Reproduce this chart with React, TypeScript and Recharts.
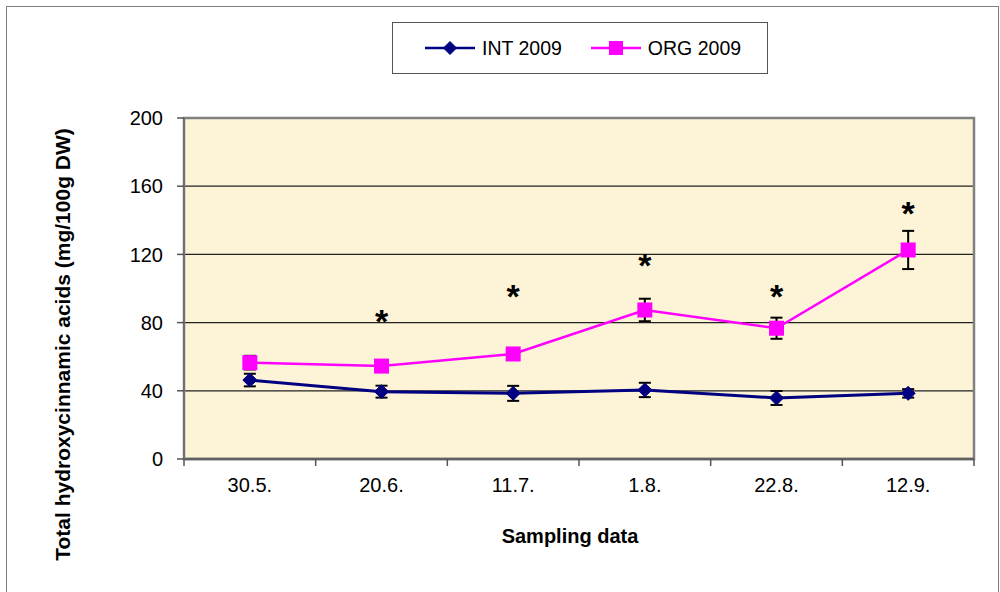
import React from "react"
import { LineChart, Line, XAxis, YAxis, CartesianGrid, ErrorBar, Legend, ReferenceArea, Label } from "recharts"

const categories = ["30.5.", "20.6.", "11.7.", "1.8.", "22.8.", "12.9."]
const intValues = [46.3, 39.5, 38.5, 40.5, 35.8, 38.5]
const intErrors = [3.7, 3.5, 4.4, 4.2, 4.1, 2.5]
const orgValues = [56.5, 54.5, 61.6, 87.4, 76.7, 122.6]
const orgErrors = [4, 2, 3, 6.6, 6.2, 11.2]
// height where the significance asterisk sits (none for the first date)
const starLevels = [null, 85, 99.7, 117.7, 100, 148.4]
const yTicks = [0, 40, 80, 120, 160, 200]

const FONT = "Arial, 'Liberation Sans', sans-serif"
const NAVY = "#000080"
const MAGENTA = "#FF00FF"

const data = categories.map((label, i) => ({
  pos: i + 0.5,
  label,
  int: intValues[i],
  intErr: intErrors[i],
  org: orgValues[i],
  orgErr: orgErrors[i],
  star: starLevels[i],
}))

// integer ticks = separators between dates, half ticks = date labels
const xTicks = categories.flatMap((_, i) => [i, i + 0.5]).concat(categories.length)

function SampleTick({ x, y, payload }: any) {
  const v = payload.value
  if (Number.isInteger(v)) {
    return <line x1={x} x2={x} y1={y} y2={y + 7} stroke="#555" strokeWidth={1.5} />
  }
  return (
    <text x={x} y={y + 33} textAnchor="middle" fontSize={20} fill="#000">
      {categories[Math.floor(v)]}
    </text>
  )
}

function Diamond({ cx, cy, size = 7 }: { cx: number; cy: number; size?: number }) {
  return (
    <polygon
      points={`${cx},${cy - size} ${cx + size},${cy} ${cx},${cy + size} ${cx - size},${cy}`}
      fill={NAVY}
      stroke={NAVY}
    />
  )
}

function Square({ cx, cy, size = 7.5 }: { cx: number; cy: number; size?: number }) {
  return <rect x={cx - size} y={cy - size} width={size * 2} height={size * 2} fill={MAGENTA} />
}

const renderDiamond = (p: any) =>
  p.cy == null ? <g key={`d${p.index}`} /> : <Diamond key={`d${p.index}`} cx={p.cx} cy={p.cy} />

const renderSquare = (p: any) =>
  p.cy == null ? <g key={`q${p.index}`} /> : <Square key={`q${p.index}`} cx={p.cx} cy={p.cy} />

const renderStar = (p: any) => {
  if (p.cy == null || p.value == null) return <g key={`s${p.index}`} />
  return (
    <text key={`s${p.index}`} x={p.cx} y={p.cy + 19} textAnchor="middle" fontSize={34} fontWeight="bold" fill="#000">
      *
    </text>
  )
}

function LegendBox({ payload }: any) {
  const items = (payload || []).filter((e: any) => e.dataKey === "int" || e.dataKey === "org")
  return (
    <div
      style={{
        boxSizing: "border-box",
        width: 376,
        height: 52,
        border: "1px solid #555",
        background: "#fff",
        display: "flex",
        alignItems: "center",
        paddingLeft: 32,
        fontFamily: FONT,
        fontSize: 19.5,
        color: "#000",
      }}
    >
      {items.map((e: any, i: number) => (
        <div key={e.dataKey} style={{ display: "flex", alignItems: "center", marginLeft: i === 0 ? 0 : 29 }}>
          <svg width={50} height={18} style={{ display: "block" }}>
            <line x1={0} x2={50} y1={9} y2={9} stroke={e.color} strokeWidth={2.5} />
            {e.dataKey === "int" ? <Diamond cx={25} cy={9} size={6.5} /> : <Square cx={25} cy={9} size={7} />}
          </svg>
          <span style={{ marginLeft: 7 }}>{e.value}</span>
        </div>
      ))}
    </div>
  )
}

export default function App() {
  return (
    <div style={{ position: "absolute", left: 0, top: 0, width: 1000, height: 592, fontFamily: FONT }}>
      <div
        style={{
          position: "absolute",
          left: 6,
          top: 6,
          width: 993,
          height: 586,
          boxSizing: "border-box",
          borderTop: "1px solid #7f7f7f",
          borderLeft: "1px solid #7f7f7f",
          borderRight: "1px solid #7f7f7f",
        }}
      />
      <LineChart width={1000} height={592} data={data} margin={{ top: 118, right: 26, bottom: 0, left: 0 }}>
        <CartesianGrid horizontal vertical={false} stroke="#222" strokeWidth={1.2} fill="#FDF3D7" fillOpacity={1} />
        <ReferenceArea x1={0} x2={6} y1={0} y2={200} fill="none" stroke="#808080" strokeWidth={2.5} ifOverflow="visible" />
        <XAxis
          dataKey="pos"
          type="number"
          domain={[0, 6]}
          ticks={xTicks}
          interval={0}
          tickLine={false}
          tickSize={0}
          tickMargin={0}
          tick={SampleTick}
          axisLine={{ stroke: "#606060", strokeWidth: 2.5 }}
          height={133}
        >
          <Label
            content={(p: any) => (
              <text x={p.viewBox.x + 386} y={p.viewBox.y + 84} textAnchor="middle" fontSize={20} fontWeight="bold" fill="#000">
                Sampling data
              </text>
            )}
          />
        </XAxis>
        <YAxis
          type="number"
          domain={[0, 200]}
          ticks={yTicks}
          interval={0}
          width={184}
          tickSize={7}
          tickMargin={14}
          tick={{ fontSize: 20, fill: "#000" }}
          tickLine={{ stroke: "#555", strokeWidth: 1.5 }}
          axisLine={{ stroke: "#707070", strokeWidth: 2 }}
        >
          <Label
            content={(p: any) => {
              const x = p.viewBox.x + 62
              const y = 344.5
              return (
                <text
                  x={x}
                  y={y}
                  transform={`rotate(-90, ${x}, ${y})`}
                  textAnchor="middle"
                  dominantBaseline="central"
                  fontSize={21}
                  fontWeight="bold"
                  fill="#000"
                >
                  Total hydroxycinnamic acids (mg/100g DW)
                </text>
              )
            }}
          />
        </YAxis>
        <Legend
          verticalAlign="middle"
          align="center"
          content={LegendBox}
          wrapperStyle={{ left: 392, top: 22, width: 376, height: 52 }}
        />
        <Line
          dataKey="int"
          name="INT 2009"
          stroke={NAVY}
          strokeWidth={3}
          dot={renderDiamond}
          activeDot={false}
          isAnimationActive={false}
        >
          <ErrorBar dataKey="intErr" width={6} stroke="#000" strokeWidth={2} isAnimationActive={false} />
        </Line>
        <Line
          dataKey="org"
          name="ORG 2009"
          stroke={MAGENTA}
          strokeWidth={2.5}
          dot={renderSquare}
          activeDot={false}
          isAnimationActive={false}
        >
          <ErrorBar dataKey="orgErr" width={6} stroke="#000" strokeWidth={2} isAnimationActive={false} />
        </Line>
        <Line
          dataKey="star"
          stroke="none"
          legendType="none"
          dot={renderStar}
          activeDot={false}
          isAnimationActive={false}
        />
      </LineChart>
    </div>
  )
}
